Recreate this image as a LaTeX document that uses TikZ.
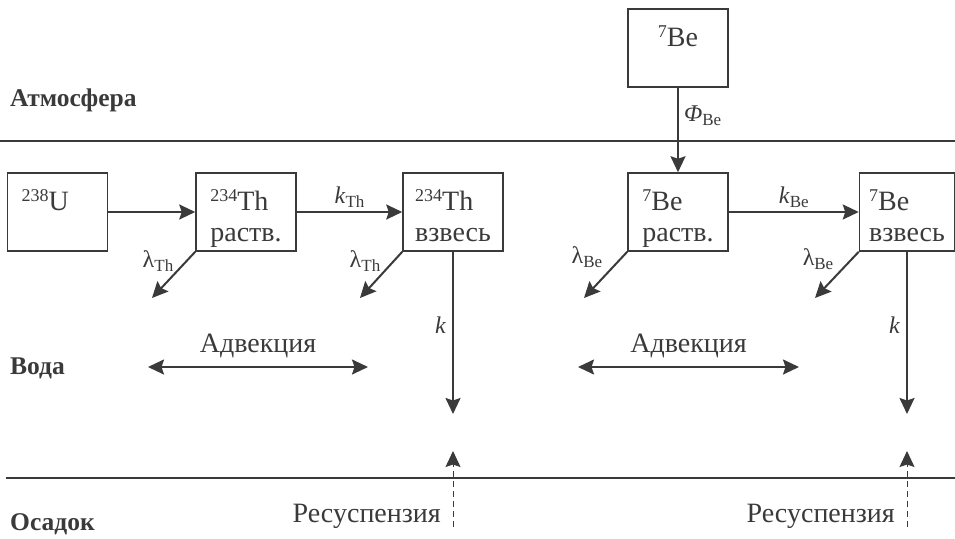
\documentclass[tikz,border=0pt]{standalone}
\usepackage{fontspec}
\setmainfont{Liberation Serif}
\usetikzlibrary{arrows.meta,positioning}

\definecolor{ink}{HTML}{3A3A3A}
\newcommand{\lidx}[1]{\raisebox{-0.4ex}{\fontsize{17}{17}\selectfont #1}}
\newcommand{\iso}[2]{\raisebox{0.7ex}{\fontsize{18}{18}\selectfont #1}#2}
\newcommand{\boxtxt}[2]{\rule{0pt}{37pt}#1\\#2\strut}

\begin{document}
\begin{tikzpicture}[x=1pt,y=-1pt,ink,
  box/.style={draw=ink,line width=1.5pt,minimum width=100pt,minimum height=78pt,
    align=left,inner sep=0pt,font=\fontsize{28}{31}\selectfont},
  flow/.style={draw=ink,line width=2pt,-{Stealth[length=16pt,width=15pt,inset=2.5pt]}},
  both/.style={flow,{Stealth[length=16pt,width=15pt,inset=2.5pt]}-{Stealth[length=16pt,width=15pt,inset=2.5pt]}},
  lbl/.style={font=\fontsize{24}{24}\selectfont,inner sep=1pt},
  big/.style={font=\fontsize{28}{28}\selectfont,inner sep=0pt},
  zone/.style={font=\bfseries\fontsize{25.5}{26}\selectfont,anchor=base west,inner sep=0pt},
  layer/.style={draw=ink,line width=1.2pt}]
\useasboundingbox (0,0) rectangle (955,538);

% границы сред
\draw[layer] (0,141) -- (955,141);
\draw[layer] (6,478) -- (955,478);
\node[zone] (atm) at (10,106) {Атмосфера};
\node[zone] (wat) at (10,374) {Вода};
\node[zone] (sed) at (10,530) {Осадок};

% ящики
\node[box,text width=72pt] (u) at (57.5,212) {\boxtxt{\iso{238}{U}}{}};
\node[box] (thd) at (246,212)  {\boxtxt{\iso{234}{Th}}{раств.}};
\node[box] (ths) at (453,212)  {\boxtxt{\iso{234}{Th}}{взвесь}};
\node[box] (bea) at (678,48)   {\boxtxt{\iso{7}{Be}}{}};
\node[box] (bed) at (678,212)  {\boxtxt{\iso{7}{Be}}{раств.}};
\node[box,minimum width=95pt] (bes) at (907,212) {\boxtxt{\iso{7}{Be}}{взвесь}};

% потоки
\draw[flow] (u) -- (thd);
\draw[flow] (thd) -- node[lbl,anchor=base,yshift=9pt] (kth) {\textit{k}\lidx{Th}} (ths);
\draw[flow] (bea) -- node[lbl,anchor=base west,pos=0.4,xshift=4pt] (phi) {\textit{Φ}\lidx{Be}} (bed);
\draw[flow] (bed) -- node[lbl,anchor=base,yshift=9pt] (kbe) {\textit{k}\lidx{Be}} (bes);

% распад
\coordinate (thdl) at (152,298);
\coordinate (thsl) at (360,298);
\coordinate (bedl) at (584,298);
\coordinate (besl) at (815,298);
\draw[flow] (thd.south west) -- (thdl);
\draw[flow] (ths.south west) -- (thsl);
\draw[flow] (bed.south west) -- (bedl);
\draw[flow] (bes.south west) -- (besl);
\node[lbl] (lth1) at (158,261) {λ\lidx{Th}};
\node[lbl] (lth2) at (365,261) {λ\lidx{Th}};
\node[lbl] (lbe1) at (587,257) {λ\lidx{Be}};
\node[lbl] (lbe2) at (818,259) {λ\lidx{Be}};

% осаждение
\coordinate (ksth) at (453,414);
\coordinate (ksbe) at (907,414);
\draw[flow] (ths.south) -- node[lbl,left=5pt,pos=0.45] (k1) {\textit{k}} (ksth);
\draw[flow] (bes.south) -- node[lbl,left=5pt,pos=0.45] (k2) {\textit{k}} (ksbe);

% ресуспензия
\coordinate (rs1a) at (453,527);
\coordinate (rs1b) at (453,451);
\coordinate (rs2a) at (907,527);
\coordinate (rs2b) at (907,451);
\draw[flow,line width=1pt,dash pattern=on 6pt off 4pt] (rs1a) -- (rs1b);
\draw[flow,line width=1pt,dash pattern=on 6pt off 4pt] (rs2a) -- (rs2b);
\node[big,anchor=base east] (rsp1) at (441,522) {Ресуспензия};
\node[big,anchor=base east] (rsp2) at (895,522) {Ресуспензия};

% адвекция
\coordinate (ad1a) at (148,367);
\coordinate (ad1b) at (368,367);
\coordinate (ad2a) at (578,367);
\coordinate (ad2b) at (799,367);
\draw[both] (ad1a) -- node[big,anchor=base,yshift=15pt] (adv1) {Адвекция} (ad1b);
\draw[both] (ad2a) -- node[big,anchor=base,yshift=15pt] (adv2) {Адвекция} (ad2b);
\end{tikzpicture}
\end{document}
